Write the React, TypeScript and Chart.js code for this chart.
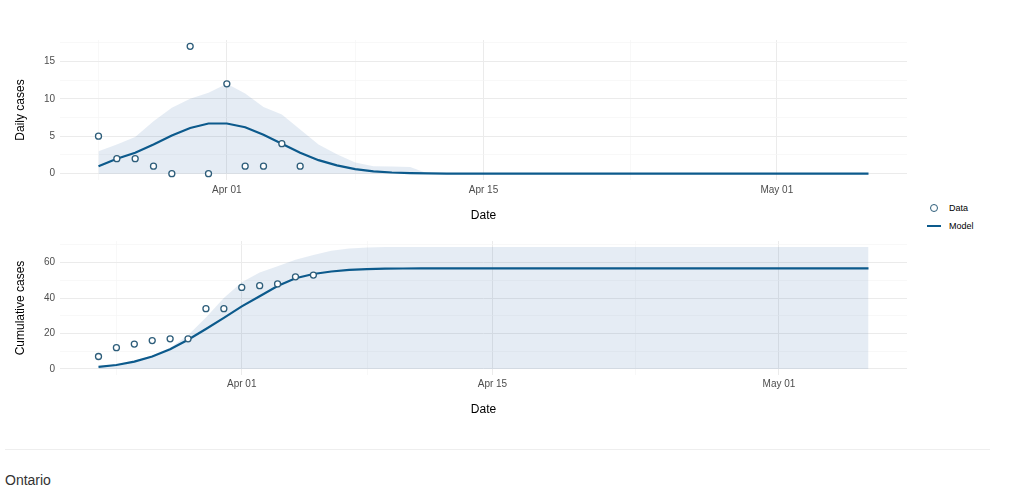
import React, { useEffect, useRef } from 'react';
import { Chart, registerables } from 'chart.js';

Chart.register(...registerables);

const FONT = '"Liberation Sans", Arial, Helvetica, sans-serif';
const BASE_DAY = '2020-04-01';

// observed daily cases (Mar 25 - Apr 05)
const dailyDates = [
  '2020-03-25', '2020-03-26', '2020-03-27', '2020-03-28', '2020-03-29', '2020-03-30',
  '2020-03-31', '2020-04-01', '2020-04-02', '2020-04-03', '2020-04-04', '2020-04-05',
];
const dailyCases = [5, 2, 2, 1, 0, 17, 0, 12, 1, 1, 4, 1];

// observed cumulative cases (Mar 24 - Apr 05)
const cumulativeDates = [
  '2020-03-24', '2020-03-25', '2020-03-26', '2020-03-27', '2020-03-28', '2020-03-29', '2020-03-30',
  '2020-03-31', '2020-04-01', '2020-04-02', '2020-04-03', '2020-04-04', '2020-04-05',
];
const cumulativeCases = [7, 12, 14, 16, 17, 17, 34, 34, 46, 47, 48, 52, 53];

// model, one value per day from the start date to May 06
const dailyModelStart = '2020-03-25';
const dailyModel = [
  1.0, 2.0, 2.8, 3.9, 5.1, 6.1, 6.7, 6.7, 6.2, 5.2, 4.0, 2.8, 1.8, 1.1, 0.6, 0.3, 0.15, 0.07, 0.03, 0.01,
  0, 0, 0, 0, 0, 0, 0, 0, 0, 0, 0, 0, 0, 0, 0, 0, 0, 0, 0, 0, 0, 0, 0,
];
const dailyUpper = [
  3.0, 3.9, 4.9, 7.0, 8.8, 10.0, 10.8, 12.0, 10.7, 8.9, 7.9, 5.9, 3.9, 2.6, 1.5, 1.0, 0.95, 0.9,
  0, 0, 0, 0, 0, 0, 0, 0, 0, 0, 0, 0, 0, 0, 0, 0, 0, 0, 0, 0, 0, 0, 0, 0, 0,
];

const cumulativeModelStart = '2020-03-24';
const cumulativeModel = [
  1.2, 2.2, 4.1, 7.0, 11.1, 16.5, 22.5, 28.8, 35.3, 41.0, 46.8, 51.2, 53.6, 55.0, 55.9, 56.4, 56.6, 56.7, 56.8,
  56.8, 56.8, 56.8, 56.8, 56.8, 56.8, 56.8, 56.8, 56.8, 56.8, 56.8, 56.8, 56.8, 56.8, 56.8, 56.8, 56.8,
  56.8, 56.8, 56.8, 56.8, 56.8, 56.8, 56.8, 56.8,
];
const cumulativeUpper = [
  1.5, 2.6, 4.6, 7.6, 12.0, 19.0, 29.0, 40.0, 49.0, 54.4, 58.0, 61.6, 64.3, 66.7, 68.0, 68.6, 68.8,
  68.8, 68.8, 68.8, 68.8, 68.8, 68.8, 68.8, 68.8, 68.8, 68.8, 68.8, 68.8, 68.8, 68.8, 68.8, 68.8, 68.8,
  68.8, 68.8, 68.8, 68.8, 68.8, 68.8, 68.8, 68.8, 68.8, 68.8,
];

// axes
const xTickDates = ['2020-04-01', '2020-04-15', '2020-05-01'];
const xTickLabels = ['Apr 01', 'Apr 15', 'May 01'];
const xMinorDates = ['2020-03-25', '2020-04-08', '2020-04-23'];
const dailyTicks = [0, 5, 10, 15];
const dailyMinor = [2.5, 7.5, 12.5, 17.5];
const cumulativeTicks = [0, 20, 40, 60];
const cumulativeMinor = [10, 30, 50, 70];

const LINE = '#0c5a8c';
const POINT = '#2d5d7a';
const BAND = 'rgba(70, 120, 180, 0.14)';
const MAJOR = '#ebebeb';
const MINOR = '#f5f5f5';

const dayOf = (d: string) => (Date.parse(d) - Date.parse(BASE_DAY)) / 86400000;
const modelPoints = (start: string, values: number[]) =>
  values.map((v, i) => ({ x: dayOf(start) + i, y: v }));
const obsPoints = (dates: string[], values: number[]) =>
  dates.map((d, i) => ({ x: dayOf(d), y: values[i] }));

type PanelProps = {
  obs: { x: number; y: number }[];
  model: { x: number; y: number }[];
  upper: { x: number; y: number }[];
  yTicks: number[];
  yMinor: number[];
  yTitle: string;
  width: number;
  height: number;
  padTop: number;
  xHeight: number;
  xTickPad: number;
  xTitlePad: number;
};

function Panel(p: PanelProps) {
  const canvasRef = useRef<HTMLCanvasElement | null>(null);

  useEffect(() => {
    if (!canvasRef.current) return;
    const xs = p.model.map((d) => d.x);
    const xMin = Math.min(...xs);
    const xMax = Math.max(...xs);
    const xPad = (xMax - xMin) * 0.05;
    const yMax = Math.max(...p.obs.map((d) => d.y), ...p.upper.map((d) => d.y));
    const yPad = yMax * 0.05;

    const xMajor = xTickDates.map(dayOf);
    const xMinor = xMinorDates.map(dayOf);

    const chart = new Chart(canvasRef.current, {
      type: 'line',
      data: {
        datasets: [
          {
            label: 'Data',
            data: p.obs,
            showLine: false,
            pointRadius: 3,
            pointBorderWidth: 1.3,
            pointBorderColor: POINT,
            pointBackgroundColor: '#ffffff',
            order: 0,
          },
          {
            label: 'Model',
            data: p.model,
            borderColor: LINE,
            borderWidth: 2.2,
            pointRadius: 0,
            fill: false,
            order: 1,
          },
          {
            label: 'band',
            data: p.upper,
            borderWidth: 0,
            borderColor: 'rgba(0,0,0,0)',
            pointRadius: 0,
            fill: 'origin',
            backgroundColor: BAND,
            order: 2,
          },
        ],
      },
      options: {
        responsive: false,
        animation: false,
        events: [],
        layout: { padding: { top: p.padTop, right: p.width - 907, left: 0, bottom: 0 } },
        plugins: { legend: { display: false }, tooltip: { enabled: false } },
        scales: {
          x: {
            type: 'linear',
            min: xMin - xPad,
            max: xMax + xPad,
            afterFit: (s: any) => { s.height = p.xHeight; },
            afterBuildTicks: (s: any) => {
              s.ticks = [...xMinor, ...xMajor].sort((a, b) => a - b).map((v) => ({ value: v }));
            },
            ticks: {
              autoSkip: false,
              maxRotation: 0,
              padding: p.xTickPad,
              color: '#4d4d4d',
              font: { size: 10, family: FONT },
              callback: (v: any) => {
                const i = xMajor.indexOf(Number(v));
                return i >= 0 ? xTickLabels[i] : '';
              },
            },
            grid: {
              drawTicks: false,
              color: (c: any) => (xMajor.includes(c.tick?.value) ? MAJOR : MINOR),
              lineWidth: (c: any) => (xMajor.includes(c.tick?.value) ? 1 : 0.7),
            },
            border: { display: false },
            title: {
              display: true,
              text: 'Date',
              color: '#000000',
              font: { size: 12, family: FONT },
              padding: { top: 0, bottom: p.xTitlePad },
            },
          },
          y: {
            type: 'linear',
            min: -yPad,
            max: yMax + yPad,
            afterFit: (s: any) => { s.width = 60; },
            afterBuildTicks: (s: any) => {
              s.ticks = [...p.yTicks, ...p.yMinor].sort((a, b) => a - b).map((v) => ({ value: v }));
            },
            ticks: {
              padding: 5,
              color: '#4d4d4d',
              font: { size: 10, family: FONT },
              callback: (v: any) => (p.yTicks.includes(Number(v)) ? String(v) : ''),
            },
            grid: {
              drawTicks: false,
              color: (c: any) => (p.yTicks.includes(c.tick?.value) ? MAJOR : MINOR),
              lineWidth: (c: any) => (p.yTicks.includes(c.tick?.value) ? 1 : 0.7),
            },
            border: { display: false },
            title: {
              display: true,
              text: p.yTitle,
              color: '#000000',
              font: { size: 12, family: FONT },
              padding: { top: 13.8, bottom: 0 },
            },
          },
        },
      },
    });

    return () => chart.destroy();
  }, []);

  return <canvas ref={canvasRef} width={p.width} height={p.height} style={{ display: 'block' }} />;
}

export default function App() {
  return (
    <div
      style={{
        position: 'absolute', left: 0, top: 0, width: 1015, height: 493,
        background: '#ffffff', fontFamily: FONT, overflow: 'hidden',
      }}
    >
      <div style={{ position: 'absolute', left: 0, top: 0 }}>
        <Panel
          obs={obsPoints(dailyDates, dailyCases)}
          model={modelPoints(dailyModelStart, dailyModel)}
          upper={modelPoints(dailyModelStart, dailyUpper)}
          yTicks={dailyTicks}
          yMinor={dailyMinor}
          yTitle="Daily cases"
          width={915}
          height={230}
          padTop={40}
          xHeight={50}
          xTickPad={4.5}
          xTitlePad={6.8}
        />
      </div>
      <div style={{ position: 'absolute', left: 0, top: 230 }}>
        <Panel
          obs={obsPoints(cumulativeDates, cumulativeCases)}
          model={modelPoints(cumulativeModelStart, cumulativeModel)}
          upper={modelPoints(cumulativeModelStart, cumulativeUpper)}
          yTicks={cumulativeTicks}
          yMinor={cumulativeMinor}
          yTitle="Cumulative cases"
          width={915}
          height={200}
          padTop={6}
          xHeight={55}
          xTickPad={3.5}
          xTitlePad={12.8}
        />
      </div>

      {/* legend */}
      <div style={{ position: 'absolute', left: 930, top: 204, width: 8, height: 8, boxSizing: 'border-box',
        border: `1.3px solid ${POINT}`, borderRadius: '50%', background: '#fff' }} />
      <div style={{ position: 'absolute', left: 949, top: 202, fontSize: 9, lineHeight: '12px', color: '#000' }}>Data</div>
      <div style={{ position: 'absolute', left: 927, top: 225, width: 14, height: 2, background: LINE }} />
      <div style={{ position: 'absolute', left: 949, top: 220, fontSize: 9, lineHeight: '12px', color: '#000' }}>Model</div>

      <div style={{ position: 'absolute', left: 5, top: 449, width: 985, height: 1, background: '#eeeeee' }} />
      <div style={{ position: 'absolute', left: 5, top: 471, fontSize: 14, lineHeight: '18px', color: '#333333' }}>Ontario</div>
    </div>
  );
}
